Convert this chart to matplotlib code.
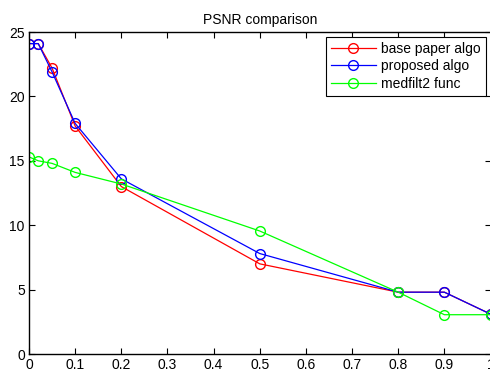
import matplotlib
matplotlib.use("Agg")
import matplotlib.pyplot as plt

plt.rcParams['font.family'] = ['Liberation Sans', 'DejaVu Sans']

noise = [0, 0.02, 0.05, 0.1, 0.2, 0.5, 0.8, 0.9, 1.0]
base_paper = [24.1, 24.1, 22.2, 17.7, 13.0, 7.0, 4.8, 4.8, 3.1]
proposed = [24.1, 24.1, 21.9, 17.9, 13.6, 7.8, 4.8, 4.8, 3.1]
medfilt2 = [15.3, 15.0, 14.8, 14.1, 13.2, 9.55, 4.8, 3.05, 3.05]

x_ticks = [0, 0.1, 0.2, 0.3, 0.4, 0.5, 0.6, 0.7, 0.8, 0.9, 1]
y_ticks = [0, 5, 10, 15, 20, 25]

fig = plt.figure(figsize=(4.9, 3.72), dpi=100)
ax = fig.add_axes([29 / 490, 18 / 372, 461.5 / 490, 322 / 372])

style = dict(marker='o', markersize=7, markerfacecolor='none', linewidth=0.9)
ax.plot(noise, base_paper, color='#ff0000', markeredgecolor='#ff0000', label='base paper algo', **style)
ax.plot(noise, proposed, color='#0000ff', markeredgecolor='#0000ff', label='proposed algo', **style)
ax.plot(noise, medfilt2, color='#00ff00', markeredgecolor='#00ff00', label='medfilt2 func', **style)

ax.set_xlim(0, 1)
ax.set_ylim(0, 25)
ax.set_xticks(x_ticks)
ax.set_xticklabels(['0', '0.1', '0.2', '0.3', '0.4', '0.5', '0.6', '0.7', '0.8', '0.9', '1'])
ax.set_yticks(y_ticks)
ax.tick_params(direction='in', top=True, right=True, labelsize=10, length=4, width=0.8, pad=3)
for s in ax.spines.values():
    s.set_linewidth(1.0)

ax.set_title("PSNR comparison", fontsize=10, pad=6)

leg = ax.legend(loc='upper right', fontsize=10, fancybox=False, framealpha=1,
                edgecolor='black', borderaxespad=0.35, handlelength=3.2,
                handletextpad=0.4, labelspacing=0.25, borderpad=0.35)
leg.get_frame().set_linewidth(0.8)

fig.savefig("out.png", dpi=100)
